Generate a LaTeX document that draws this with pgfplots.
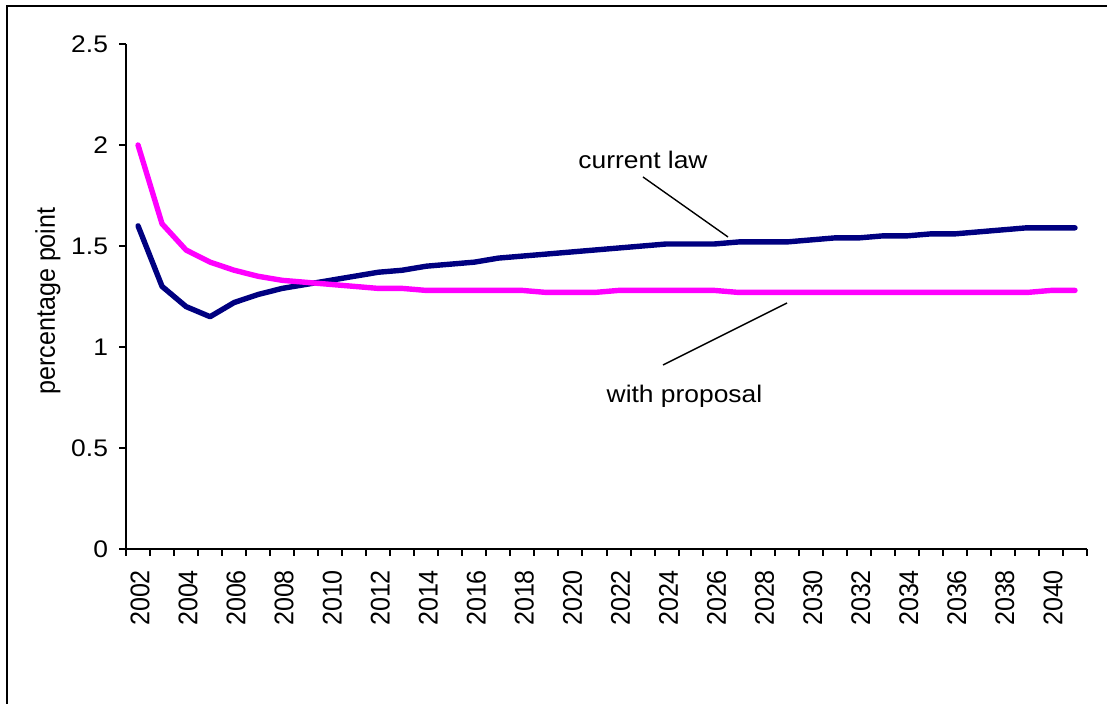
\documentclass[border=0pt]{standalone}
\usepackage{fontspec}
\setmainfont{Liberation Sans}[FakeStretch=1.1]
\newfontfamily\rotfont{Liberation Sans}[FakeStretch=0.93]
\usepackage{pgfplots}
\usepackage{pgfplotstable}
\pgfplotsset{compat=1.18}

\definecolor{lawblue}{RGB}{0,0,128}
\definecolor{propmag}{RGB}{255,0,255}

% year, current law, with proposal (percentage points)
\pgfplotstableread{
year law  proposal
2002 1.60 2.00
2003 1.30 1.61
2004 1.20 1.48
2005 1.15 1.42
2006 1.22 1.38
2007 1.26 1.35
2008 1.29 1.33
2009 1.31 1.32
2010 1.33 1.31
2011 1.35 1.30
2012 1.37 1.29
2013 1.38 1.29
2014 1.40 1.28
2015 1.41 1.28
2016 1.42 1.28
2017 1.44 1.28
2018 1.45 1.28
2019 1.46 1.27
2020 1.47 1.27
2021 1.48 1.27
2022 1.49 1.28
2023 1.50 1.28
2024 1.51 1.28
2025 1.51 1.28
2026 1.51 1.28
2027 1.52 1.27
2028 1.52 1.27
2029 1.52 1.27
2030 1.53 1.27
2031 1.54 1.27
2032 1.54 1.27
2033 1.55 1.27
2034 1.55 1.27
2035 1.56 1.27
2036 1.56 1.27
2037 1.57 1.27
2038 1.58 1.27
2039 1.59 1.27
2040 1.59 1.28
2041 1.59 1.28
}\datatable

\begin{document}
\begin{tikzpicture}[x=0.5pt,y=0.5pt]
\useasboundingbox (0,0) rectangle (1107,704);
% outer frame (top and left edges)
\draw[line width=1pt] (7,-5) -- (7,698) -- (1112,698);
\coordinate (plotorigin) at (126,155);
\begin{axis}[
  at={(plotorigin)}, anchor=south west,
  scale only axis, width=480.5pt, height=252.5pt,
  xmin=2001.5, xmax=2041.5, ymin=0, ymax=2.5,
  axis lines=left, axis line style={-, line width=1pt},
  every tick/.style={black, line width=1pt},
  tick align=outside, major tick length=3.5pt,
  xtick={2001.5,2002.5,...,2041.5}, xticklabels={},
  extra x ticks={2002,2004,...,2040},
  extra x tick labels={2002,2004,2006,2008,2010,2012,2014,2016,2018,2020,2022,2024,2026,2028,2030,2032,2034,2036,2038,2040},
  extra x tick style={major tick length=0pt,
    tick label style={yshift=-7pt, xshift=1pt, rotate=90, anchor=east,
      font=\rotfont\fontsize{13.5}{16}\selectfont}},
  ytick={0,0.5,...,2.5},
  yticklabel style={font=\fontsize{12}{14}\selectfont, xshift=-2pt},
  /pgf/number format/assume math mode=true,
  /pgf/number format/1000 sep={},
  ylabel={percentage point},
  every axis y label/.style={at={(axis description cs:-0.0812,0.491)},
    rotate=90, anchor=center, font=\rotfont\fontsize{13.5}{16}\selectfont},
  clip=false,
]
\addplot[lawblue, line width=2.7pt, line join=round, line cap=round, mark=none]
  table[x=year, y=law] {\datatable};
\addplot[propmag, line width=2.7pt, line join=round, line cap=round, mark=none]
  table[x=year, y=proposal] {\datatable};
\end{axis}
% series labels with leader lines
\node[inner sep=0, font=\fontsize{12}{14}\selectfont] at (643,544) {current law};
\draw[line width=0.7pt] (643,527) -- (728,467);
\node[inner sep=0, font=\fontsize{12}{14}\selectfont] at (684.5,308) {with proposal};
\draw[line width=0.7pt] (787,401) -- (663,339);
\end{tikzpicture}
\end{document}
